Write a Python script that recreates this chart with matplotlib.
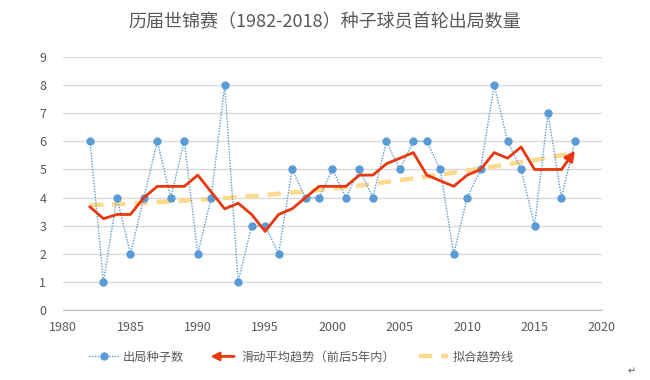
import matplotlib
matplotlib.use("Agg")
import matplotlib.pyplot as plt
from matplotlib.lines import Line2D
from matplotlib.patches import FancyArrowPatch
from matplotlib.legend_handler import HandlerBase

plt.rcParams['font.family'] = ['Noto Sans CJK SC', 'DejaVu Sans']

years = list(range(1982, 2019))
seeds_out = [6, 1, 4, 2, 4, 6, 4, 6, 2, 4, 8, 1, 3, 3, 2, 5, 4, 4, 5, 4,
             5, 4, 6, 5, 6, 6, 5, 2, 4, 5, 8, 6, 5, 3, 7, 4, 6]
moving_avg = [3.67, 3.25, 3.4, 3.4, 4.0, 4.4, 4.4, 4.4, 4.8, 4.2, 3.6, 3.8,
              3.4, 2.8, 3.4, 3.6, 4.0, 4.4, 4.4, 4.4, 4.8, 4.8, 5.2, 5.4,
              5.6, 4.8, 4.6, 4.4, 4.8, 5.0, 5.6, 5.4, 5.8, 5.0, 5.0, 5.0, 5.67]
# fitted trend curve
trend_years = [1982, 1986, 1990, 1994, 1998, 2002, 2006, 2010, 2014, 2018]
trend_values = [3.73, 3.81, 3.92, 4.05, 4.22, 4.43, 4.68, 4.96, 5.26, 5.58]

title = "历届世锦赛（1982-2018）种子球员首轮出局数量"
labels = ["出局种子数", "滑动平均趋势（前后5年内）", "拟合趋势线"]

blue = "#5B9BD5"
red = "#E8380D"
yellow = "#FFD98C"
gray = "#595959"


class HandlerArrow(HandlerBase):
    def create_artists(self, legend, orig_handle, xdescent, ydescent,
                       width, height, fontsize, trans):
        y = height / 2 - ydescent
        p = FancyArrowPatch((width - xdescent, y), (-xdescent, y),
                            arrowstyle='-|>', mutation_scale=12,
                            lw=2, color=red, transform=trans)
        return [p]


fig = plt.figure(figsize=(6.5, 3.8), dpi=100)
ax = fig.add_axes([0.097, 0.184, 0.829, 0.666])

ax.plot(trend_years, trend_values, color=yellow, lw=3.2, ls=(0, (3, 2)),
        zorder=2)
ax.plot(years, seeds_out, color=blue, lw=1, ls=(0, (1, 1)), marker='o',
        markersize=5, zorder=3)
ax.plot(years[:-1], moving_avg[:-1], color=red, lw=2, zorder=4)
ax.annotate('', xy=(years[-1], moving_avg[-1]),
            xytext=(years[-2], moving_avg[-2]),
            arrowprops=dict(arrowstyle='-|>', color=red, lw=2,
                            mutation_scale=15, shrinkA=0, shrinkB=0),
            zorder=4)

ax.set_xlim(1980, 2020)
ax.set_ylim(0, 9)
ax.set_xticks(range(1980, 2021, 5))
ax.set_yticks(range(0, 10))
ax.grid(axis='y', color='#D9D9D9', lw=1)
ax.set_axisbelow(True)
for s in ['top', 'right', 'left']:
    ax.spines[s].set_visible(False)
ax.spines['bottom'].set_color('#BFBFBF')
ax.tick_params(length=0, colors=gray, labelsize=9)
ax.tick_params(axis='y', pad=12)
ax.tick_params(axis='x', pad=8)

fig.text(0.5, 0.942, title, ha='center', va='center', fontsize=13,
         color=gray)

h1 = Line2D([], [], color=blue, lw=1, ls=(0, (1, 1)), marker='o',
            markersize=5)
h2 = Line2D([], [], color=red)
h3 = Line2D([], [], color=yellow, lw=3.2, ls=(0, (3, 2)))
fig.legend([h1, h2, h3], labels, handler_map={h2: HandlerArrow()},
           loc='center', bbox_to_anchor=(0.464, 0.06), ncol=3,
           frameon=False, fontsize=8.8, handlelength=2.4,
           columnspacing=1.9, handletextpad=0.4, labelcolor=gray)

fig.text(0.972, 0.01, "↵", fontsize=7, color=gray, ha='center',
         va='bottom')

fig.savefig("out.png", dpi=100)
